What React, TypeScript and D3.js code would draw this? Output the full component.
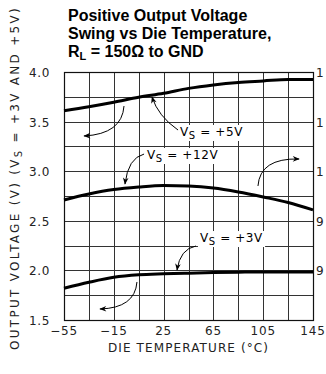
import { useEffect, useRef } from 'react';
import * as d3 from 'd3';

const WIDTH = 326;
const HEIGHT = 374;
const PLOT = { left: 64, right: 313, top: 72, bottom: 320 };

// die temperature (°C) sampled every 20 degrees
const temps = [-55, -35, -15, 5, 25, 45, 65, 85, 105, 125, 145];
const vs5 = [3.61, 3.65, 3.695, 3.745, 3.785, 3.835, 3.87, 3.895, 3.91, 3.925, 3.925];
const vs12 = [2.71, 2.77, 2.815, 2.84, 2.855, 2.85, 2.83, 2.79, 2.74, 2.685, 2.61];
const vs3 = [1.82, 1.88, 1.93, 1.955, 1.965, 1.972, 1.978, 1.982, 1.985, 1.985, 1.985];

const xTicks = [-55, -15, 25, 65, 105, 145];
const yTicks = [1.5, 2.0, 2.5, 3.0, 3.5, 4.0];
// right (+12V) axis: only the leading digit is visible at the page edge
const rightTickLabels = ['', '9', '9', '1', '1', '1'];

// annotation labels: [temp, volt, supply]
const labels: [number, number, string][] = [
  [38.2, 3.355, '+5V'],
  [11.7, 3.123, '+12V'],
  [54.2, 2.286, '+3V'],
];

// annotation arrows as quadratic curves: start, control, end (data units)
const arrows: [number, number][][] = [
  [[36.6, 3.415], [20.5, 3.556], [15.7, 3.748]],
  [[-6.8, 3.657], [-8.4, 3.375], [-38.9, 3.355]],
  [[9.3, 3.173], [-3.6, 3.133], [-6.0, 2.871]],
  [[100.8, 2.851], [102.4, 3.133], [133.8, 3.123]],
  [[51.0, 2.246], [38.2, 2.216], [35.8, 2.004]],
  [[3.6, 1.883], [2.0, 1.621], [-26.1, 1.611]],
];

const FONT = '"DejaVu Sans", sans-serif';

export default function App() {
  const svgRef = useRef<SVGSVGElement>(null);

  useEffect(() => {
    if (!svgRef.current) return;
    const svg = d3.select(svgRef.current);
    svg.selectAll('*').remove();

    const x = d3.scaleLinear().domain([-55, 145]).range([PLOT.left, PLOT.right]);
    const y = d3.scaleLinear().domain([1.5, 4.0]).range([PLOT.bottom, PLOT.top]);

    svg
      .append('defs')
      .append('marker')
      .attr('id', 'head')
      .attr('viewBox', '0 0 10 10')
      .attr('refX', 9)
      .attr('refY', 5)
      .attr('markerWidth', 9)
      .attr('markerHeight', 7)
      .attr('markerUnits', 'userSpaceOnUse')
      .attr('orient', 'auto')
      .append('path')
      .attr('d', 'M0,1 L10,5 L0,9 L3,5 Z')
      .attr('fill', '#000');

    // Title
    const title = svg
      .append('g')
      .attr('font-family', '"Liberation Sans", Arial, sans-serif')
      .attr('font-weight', 'bold')
      .attr('font-size', 16)
      .attr('fill', '#000');
    title.append('text').attr('x', 68).attr('y', 21).text('Positive Output Voltage');
    title.append('text').attr('x', 68).attr('y', 39).text('Swing vs Die Temperature,');
    const t3 = title.append('text').attr('x', 68).attr('y', 57);
    t3.append('tspan').text('R');
    t3.append('tspan').attr('font-size', 11).attr('dy', 3).text('L');
    t3.append('tspan').attr('dy', -3).text(' = 150Ω to GND');

    // Grid
    const grid = svg.append('g').attr('stroke', '#333').attr('stroke-width', 1).attr('shape-rendering', 'crispEdges');
    d3.range(1.5, 4.01, 0.25).forEach((v) => {
      grid.append('line')
        .attr('x1', PLOT.left).attr('x2', PLOT.right)
        .attr('y1', Math.round(y(v)) + 0.5).attr('y2', Math.round(y(v)) + 0.5);
    });
    d3.range(-55, 146, 20).forEach((t) => {
      grid.append('line')
        .attr('x1', Math.round(x(t)) + 0.5).attr('x2', Math.round(x(t)) + 0.5)
        .attr('y1', PLOT.top).attr('y2', PLOT.bottom);
    });
    svg.append('rect')
      .attr('x', PLOT.left + 0.5).attr('y', PLOT.top + 0.5)
      .attr('width', PLOT.right - PLOT.left).attr('height', PLOT.bottom - PLOT.top)
      .attr('fill', 'none').attr('stroke', '#111').attr('stroke-width', 1.2);

    // Curves
    const line = d3
      .line<number>()
      .x((_, i) => x(temps[i]))
      .y((d) => y(d))
      .curve(d3.curveMonotoneX);
    [vs5, vs12, vs3].forEach((s) => {
      svg.append('path')
        .attr('d', line(s))
        .attr('fill', 'none')
        .attr('stroke', '#000')
        .attr('stroke-width', 3);
    });

    // Annotation labels (white boxes knock out the grid)
    labels.forEach(([t, v, supply]) => {
      const g = svg.append('g');
      const box = g.append('rect').attr('fill', '#fff');
      const txt = g
        .append('text')
        .attr('x', x(t))
        .attr('y', y(v))
        .attr('font-family', FONT)
        .attr('font-size', 12)
        .attr('letter-spacing', 0.6)
        .attr('fill', '#000');
      txt.append('tspan').text('V');
      txt.append('tspan').attr('font-size', 10).attr('dy', 3).text('S');
      txt.append('tspan').attr('dy', -3).text(` = ${supply}`);
      const bb = (txt.node() as SVGTextElement).getBBox();
      box.attr('x', bb.x - 2).attr('y', bb.y).attr('width', bb.width + 4).attr('height', bb.height);
    });

    // Arrows
    arrows.forEach(([a, c, b]) => {
      svg.append('path')
        .attr('d', `M${x(a[0])},${y(a[1])} Q${x(c[0])},${y(c[1])} ${x(b[0])},${y(b[1])}`)
        .attr('fill', 'none')
        .attr('stroke', '#000')
        .attr('stroke-width', 1)
        .attr('marker-end', 'url(#head)');
    });

    // Axes labels
    const axisText = svg.append('g').attr('font-family', FONT).attr('font-size', 12).attr('fill', '#222');
    xTicks.forEach((t) => {
      axisText.append('text')
        .attr('x', x(t)).attr('y', 335)
        .attr('text-anchor', 'middle')
        .attr('letter-spacing', 0.8)
        .text(t < 0 ? `−${-t}` : `${t}`);
    });
    yTicks.forEach((v) => {
      axisText.append('text')
        .attr('x', 50).attr('y', y(v) + 5)
        .attr('text-anchor', 'end')
        .attr('letter-spacing', 0.6)
        .text(v.toFixed(1));
    });
    yTicks.forEach((v, i) => {
      if (!rightTickLabels[i]) return;
      axisText.append('text')
        .attr('x', 316).attr('y', y(v) + 5)
        .text(rightTickLabels[i]);
    });

    axisText.append('text')
      .attr('x', 188).attr('y', 352)
      .attr('text-anchor', 'middle')
      .attr('textLength', 160)
      .attr('lengthAdjust', 'spacing')
      .text('DIE TEMPERATURE (°C)');

    const yTitle = axisText.append('text')
      .attr('transform', 'translate(19,178) rotate(-90)')
      .attr('text-anchor', 'middle');
    yTitle.append('tspan').text('OUTPUT VOLTAGE (V) (V');
    yTitle.append('tspan').attr('font-size', 10).attr('dy', 3).text('S');
    yTitle.append('tspan').attr('dy', -3).text(' = +3V AND +5V)');
    const w = (yTitle.node() as SVGTextElement).getComputedTextLength();
    yTitle.attr('letter-spacing', Math.max(0, (344 - w) / 37));
  }, []);

  return (
    <svg
      ref={svgRef}
      width={WIDTH}
      height={HEIGHT}
      style={{ position: 'absolute', left: 0, top: 0, background: '#fff' }}
    />
  );
}
